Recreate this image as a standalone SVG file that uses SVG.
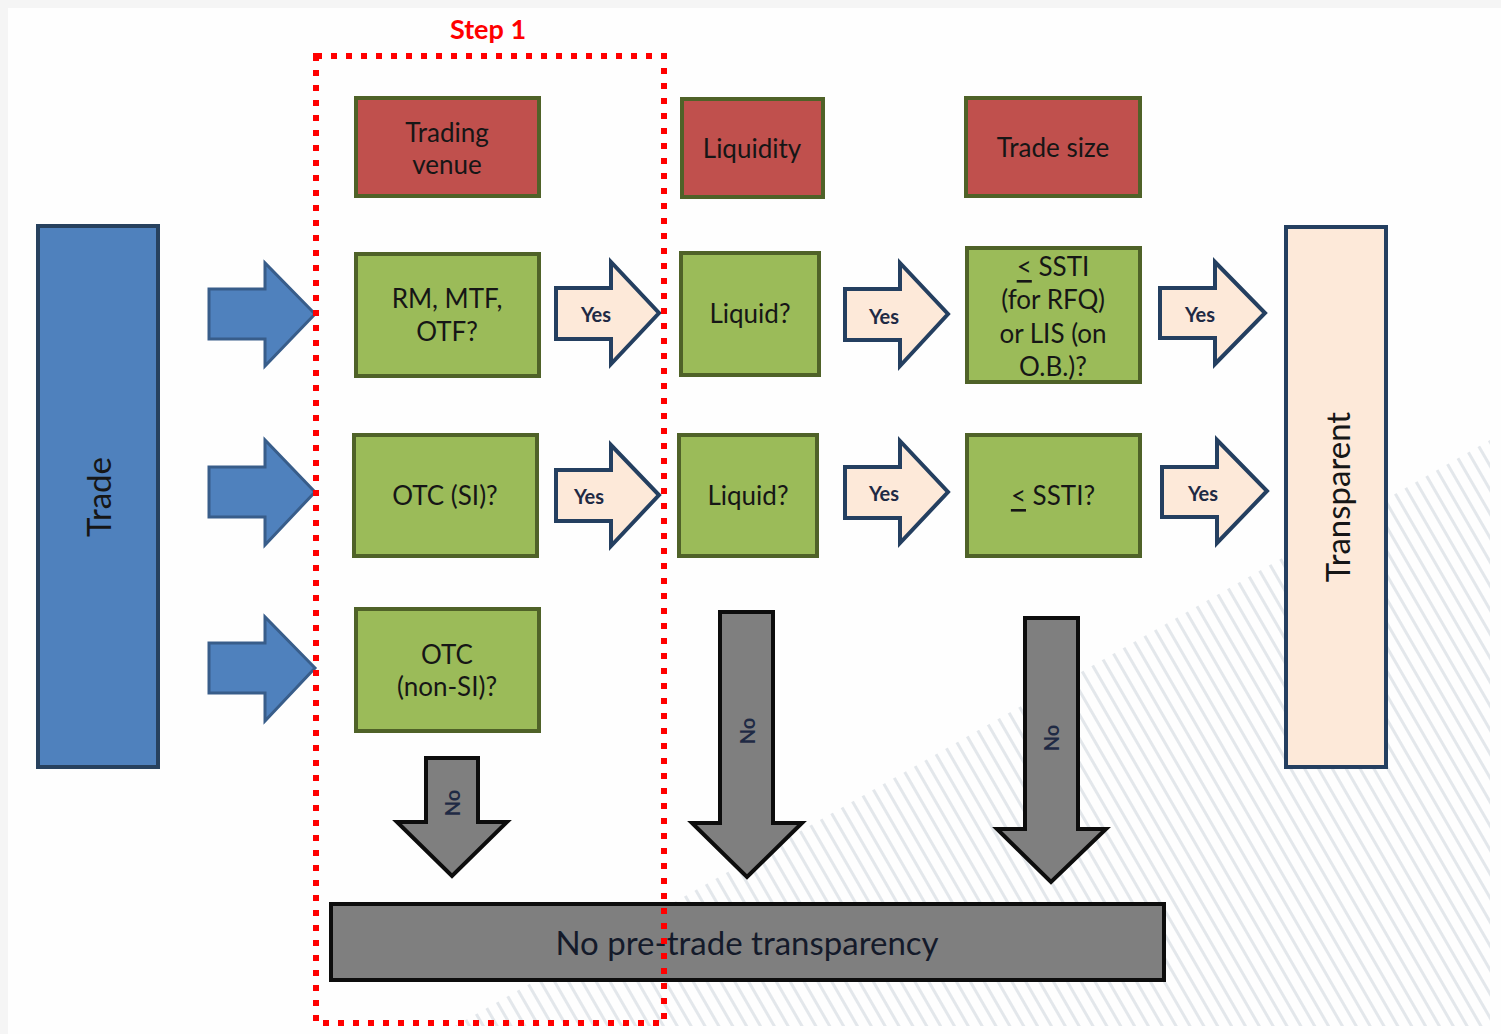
<svg xmlns="http://www.w3.org/2000/svg" width="1501" height="1034" viewBox="0 0 1501 1034">
  <style>
    text { font-family: Lato, "Noto Sans", "DejaVu Sans", sans-serif; fill: #161616; text-anchor: middle; dominant-baseline: central; }
    .hdr { fill: #c0504d; stroke: #4f6228; stroke-width: 4; }
    .q { fill: #9bbb59; stroke: #4f6228; stroke-width: 4; }
    .in { fill: #4f81bd; stroke: #385d8a; stroke-width: 3; }
    .yes { fill: #fde9d9; stroke: #243f60; stroke-width: 4; stroke-linejoin: miter; }
    .no { fill: #7f7f7f; stroke: #0d0d0d; stroke-width: 4; }
    .lbl { font-size: 26px; }
    .small { font-size: 20px; font-weight: 700; fill: #1f2a44; }
    .big { font-size: 33px; }
  </style>
  <defs>
    <pattern id="hatch" width="12" height="40" patternUnits="userSpaceOnUse" patternTransform="rotate(-30)">
      <rect x="0" y="0" width="3" height="40" fill="#e3e7eb"/>
    </pattern>
    <clipPath id="hatchArea">
      <path d="M455 1026 Q 980 730 1490 440 L 1490 1026 Z"/>
    </clipPath>
  </defs>

  <!-- page background -->
  <rect x="0" y="0" width="1501" height="1034" fill="#f5f5f5"/>
  <rect x="8" y="8" width="1493" height="1026" fill="#fefefe"/>
  <rect x="0" y="0" width="1501" height="1034" fill="url(#hatch)" clip-path="url(#hatchArea)"/>

  <!-- left and right columns -->
  <g id="trade">
    <rect x="38" y="226" width="120" height="541" fill="#4f81bd" stroke="#27415e" stroke-width="4"/>
    <text class="big" transform="translate(98 497) rotate(-90)">Trade</text>
  </g>
  <g id="transparent">
    <rect x="1286" y="227" width="100" height="540" fill="#fde9d9" stroke="#243f60" stroke-width="4"/>
    <text class="big" transform="translate(1337 497) rotate(-90)">Transparent</text>
  </g>

  <!-- header boxes -->
  <g id="hdr-venue">
    <rect class="hdr" x="356" y="98" width="183" height="98"/>
    <text class="lbl" x="447" y="132">Trading</text>
    <text class="lbl" x="447" y="164">venue</text>
  </g>
  <g id="hdr-liquidity">
    <rect class="hdr" x="682" y="99" width="141" height="98"/>
    <text class="lbl" x="752" y="148">Liquidity</text>
  </g>
  <g id="hdr-size">
    <rect class="hdr" x="966" y="98" width="174" height="98"/>
    <text class="lbl" x="1053" y="147">Trade size</text>
  </g>

  <!-- question boxes -->
  <g id="q-rm">
    <rect class="q" x="356" y="254" width="183" height="122"/>
    <text class="lbl" x="447" y="298">RM, MTF,</text>
    <text class="lbl" x="447" y="331">OTF?</text>
  </g>
  <g id="q-si">
    <rect class="q" x="354" y="435" width="183" height="121"/>
    <text class="lbl" x="445" y="495">OTC (SI)?</text>
  </g>
  <g id="q-nonsi">
    <rect class="q" x="356" y="609" width="183" height="122"/>
    <text class="lbl" x="447" y="654">OTC</text>
    <text class="lbl" x="447" y="686">(non-SI)?</text>
  </g>
  <g id="q-liquid1">
    <rect class="q" x="681" y="253" width="138" height="122"/>
    <text class="lbl" x="750" y="313">Liquid?</text>
  </g>
  <g id="q-liquid2">
    <rect class="q" x="679" y="435" width="138" height="121"/>
    <text class="lbl" x="748" y="495">Liquid?</text>
  </g>
  <g id="q-ssti1">
    <rect class="q" x="967" y="248" width="173" height="134"/>
    <text class="lbl" x="1053" y="266"><tspan text-decoration="underline">&lt;</tspan> SSTI</text>
    <text class="lbl" x="1053" y="299">(for RFQ)</text>
    <text class="lbl" x="1053" y="333">or LIS (on</text>
    <text class="lbl" x="1053" y="366">O.B.)?</text>
  </g>
  <g id="q-ssti2">
    <rect class="q" x="967" y="435" width="173" height="121"/>
    <text class="lbl" x="1053" y="495"><tspan text-decoration="underline">&lt;</tspan> SSTI?</text>
  </g>

  <!-- outcome bar -->
  <g id="no-transparency">
    <rect x="331" y="904" width="833" height="76" fill="#7f7f7f" stroke="#0d0d0d" stroke-width="4"/>
    <text class="big" x="747" y="942" style="fill:#141a2a">No pre-trade transparency</text>
  </g>

  <!-- connectors -->
  <g id="connectors">
    <path class="in" d="M209 289 H265 V263 L315 314 L265 366 V339 H209 Z"/>
    <path class="in" d="M209 467 H265 V440 L315 492 L265 545 V517 H209 Z"/>
    <path class="in" d="M209 643 H265 V617 L315 668 L265 721 V693 H209 Z"/>

    <path class="yes" d="M556 288 H611 V262 L659 313 L611 364 V339 H556 Z"/>
    <text class="small" x="596" y="314">Yes</text>
    <path class="yes" d="M556 470 H611 V445 L659 495 L611 546 V521 H556 Z"/>
    <text class="small" x="589" y="496">Yes</text>
    <path class="yes" d="M845 289 H900 V263 L948 314 L900 366 V340 H845 Z"/>
    <text class="small" x="884" y="316">Yes</text>
    <path class="yes" d="M845 467 H900 V441 L948 492 L900 543 V518 H845 Z"/>
    <text class="small" x="884" y="493">Yes</text>
    <path class="yes" d="M1160 288 H1215 V262 L1265 313 L1215 364 V338 H1160 Z"/>
    <text class="small" x="1200" y="314">Yes</text>
    <path class="yes" d="M1162 467 H1217 V440 L1267 491 L1217 543 V517 H1162 Z"/>
    <text class="small" x="1203" y="493">Yes</text>

    <path class="no" d="M426 758 H478 V822 H507 L452 876 L397 822 H426 Z"/>
    <text class="small" transform="translate(452 803) rotate(-90)">No</text>
    <path class="no" d="M720 612 H773 V823 H802 L747 877 L692 823 H720 Z"/>
    <text class="small" transform="translate(747 731) rotate(-90)">No</text>
    <path class="no" d="M1025 618 H1078 V829 H1106 L1051 882 L997 829 H1025 Z"/>
    <text class="small" transform="translate(1051 738) rotate(-90)">No</text>
  </g>

  <!-- step 1 frame -->
  <g id="step1">
    <rect x="316" y="56" width="348" height="967" fill="none" stroke="#ff0000" stroke-width="6" stroke-dasharray="6 9"/>
    <text x="488" y="28" style="font-size:27px;font-weight:700;fill:#ff0000">Step 1</text>
  </g>
</svg>
